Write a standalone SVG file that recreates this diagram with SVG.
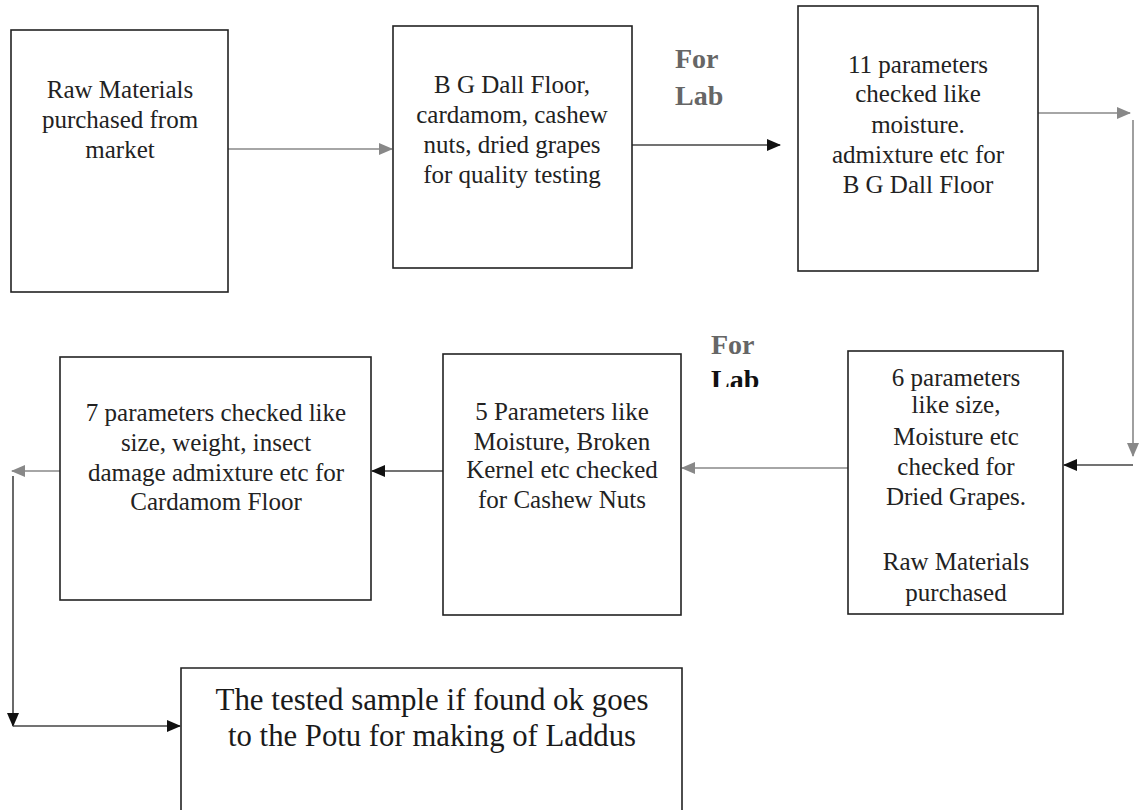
<svg xmlns="http://www.w3.org/2000/svg" width="1139" height="810" viewBox="0 0 1139 810">
<defs>
<style>
.box{fill:#fff;stroke:#222;stroke-width:1.6}
.t{font-family:"Liberation Serif","Times New Roman",serif;font-size:25px;fill:#222;text-anchor:middle}
.big{font-family:"Liberation Serif","Times New Roman",serif;font-size:32px;fill:#1a1a1a;text-anchor:middle}
.lab{font-family:"Liberation Serif","Times New Roman",serif;font-size:28px;font-weight:bold;fill:#666}
.c{fill:none;stroke:#444;stroke-width:1.6}
.cg{fill:none;stroke:#888;stroke-width:1.6}
</style>
<marker id="ab" markerWidth="14" markerHeight="12" refX="13" refY="6" orient="auto" markerUnits="userSpaceOnUse">
<path d="M0,0 L14,6 L0,12 Z" fill="#111"/>
</marker>
<marker id="ag" markerWidth="14" markerHeight="12" refX="13" refY="6" orient="auto" markerUnits="userSpaceOnUse">
<path d="M0,0 L14,6 L0,12 Z" fill="#888"/>
</marker>
<clipPath id="clipLab"><rect x="700" y="355" width="80" height="32"/></clipPath>
</defs>
<rect width="1139" height="810" fill="#fff"/>

<g id="connectors">
<line class="cg" x1="228" y1="149" x2="392" y2="149" marker-end="url(#ag)"/>
<line class="c" x1="632" y1="145" x2="780" y2="145" marker-end="url(#ab)"/>
<line class="cg" x1="1038" y1="113" x2="1130" y2="113" marker-end="url(#ag)"/>
<line class="cg" x1="1133" y1="120" x2="1133" y2="456" marker-end="url(#ag)"/>
<line class="c" x1="1133" y1="465" x2="1064" y2="465" marker-end="url(#ab)"/>
<line class="cg" x1="848" y1="468" x2="682" y2="468" marker-end="url(#ag)"/>
<line class="c" x1="443" y1="471" x2="372" y2="471" marker-end="url(#ab)"/>
<line class="cg" x1="60" y1="471" x2="12" y2="471" marker-end="url(#ag)"/>
<line class="c" x1="13" y1="476" x2="13" y2="726" marker-end="url(#ab)"/>
<line class="c" x1="13" y1="726" x2="180" y2="726" marker-end="url(#ab)"/>
</g>

<g id="label-lab1">
<text class="lab" x="675" y="68">For</text>
<text class="lab" x="675" y="105">Lab</text>
</g>
<g id="label-lab2">
<text class="lab" x="711" y="354">For</text>
<text class="lab" x="711" y="389" fill="#111" clip-path="url(#clipLab)" style="fill:#111">Lab</text>
</g>

<g id="n1">
<rect class="box" x="11" y="30" width="217" height="262"/>
<text class="t" x="120" y="98">Raw Materials</text>
<text class="t" x="120" y="128">purchased from</text>
<text class="t" x="120" y="158">market</text>
</g>

<g id="n2">
<rect class="box" x="393" y="26" width="239" height="242"/>
<text class="t" x="512" y="93">B G Dall Floor,</text>
<text class="t" x="512" y="123">cardamom, cashew</text>
<text class="t" x="512" y="153">nuts, dried grapes</text>
<text class="t" x="512" y="183">for quality testing</text>
</g>

<g id="n3">
<rect class="box" x="798" y="6" width="240" height="265"/>
<text class="t" x="918" y="73">11 parameters</text>
<text class="t" x="918" y="102">checked like</text>
<text class="t" x="918" y="133">moisture.</text>
<text class="t" x="918" y="163">admixture etc for</text>
<text class="t" x="918" y="193">B G Dall Floor</text>
</g>

<g id="n4">
<rect class="box" x="848" y="351" width="215" height="263"/>
<text class="t" x="956" y="386">6 parameters</text>
<text class="t" x="956" y="413">like size,</text>
<text class="t" x="956" y="445">Moisture etc</text>
<text class="t" x="956" y="475">checked for</text>
<text class="t" x="956" y="505">Dried Grapes.</text>
<text class="t" x="956" y="570">Raw Materials</text>
<text class="t" x="956" y="601">purchased</text>
</g>

<g id="n5">
<rect class="box" x="443" y="354" width="238" height="261"/>
<text class="t" x="562" y="420">5 Parameters like</text>
<text class="t" x="562" y="450">Moisture, Broken</text>
<text class="t" x="562" y="478">Kernel etc checked</text>
<text class="t" x="562" y="508">for Cashew Nuts</text>
</g>

<g id="n6">
<rect class="box" x="60" y="357" width="311" height="243"/>
<text class="t" x="216" y="421">7 parameters checked like</text>
<text class="t" x="216" y="451">size, weight, insect</text>
<text class="t" x="216" y="481">damage admixture etc for</text>
<text class="t" x="216" y="510">Cardamom Floor</text>
</g>

<g id="n7">
<path class="box" d="M181,812 L181,668 L682,668 L682,812"/>
<text class="big" x="432" y="710" textLength="433" lengthAdjust="spacingAndGlyphs">The tested sample if found ok goes</text>
<text class="big" x="432" y="746" textLength="408" lengthAdjust="spacingAndGlyphs">to the Potu for making of Laddus</text>
</g>
</svg>
